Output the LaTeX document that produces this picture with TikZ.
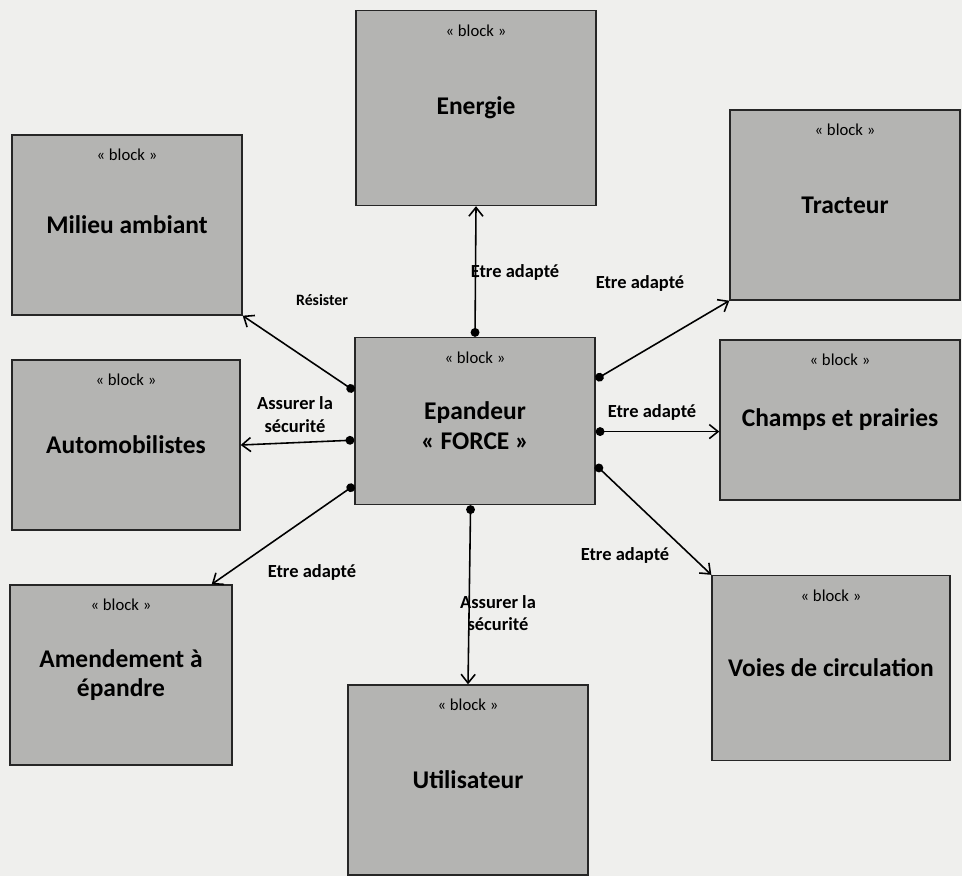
\documentclass[tikz,border=0pt]{standalone}
\usepackage{fontspec}
\setmainfont{Carlito}
\usetikzlibrary{arrows.meta}
\usetikzlibrary{positioning}

\definecolor{paper}{HTML}{EFEFED}
\definecolor{blockgray}{HTML}{B4B4B2}

\tikzset{
  block/.style n args={2}{draw=black!85, fill=blockgray, line width=0.8pt,
    minimum width=#1, minimum height=#2, align=center,
    font=\bfseries\fontsize{14.5}{17}\selectfont,
    label={[anchor=north, yshift=-5pt, font=\fontsize{9.5}{10}\selectfont]north:« block »}},
  link/.style={{Circle[length=5pt]}-{Straight Barb[length=5pt,width=8pt]}, line width=0.9pt},
  lbl/.style={font=\bfseries\fontsize{10.5}{13}\selectfont, align=center, inner sep=1pt}
}

\begin{document}
\begin{tikzpicture}[x=0.02cm, y=-0.02cm]
    \path[use as bounding box, fill=paper] (0,0) rectangle (962,876);

    % blocks
    \node[block={4.8cm}{3.9cm}] (en) at (476,108) {Energie};
    \node[block={4.6cm}{3.6cm}] (mi) at (127,225) {Milieu ambiant};
    \node[block={4.6cm}{3.8cm}] (tr) at (845,205) {Tracteur};
    \node[block={4.8cm}{3.34cm}] (ep) at (475,421) {\\[-2pt]Epandeur\\« FORCE »};
    \node[block={4.56cm}{3.4cm}] (au) at (126,445) {Automobilistes};
    \node[block={4.8cm}{3.2cm}] (ch) at (840,420) {Champs et prairies};
    \node[block={4.44cm}{3.6cm}] (am) at (121,675) {Amendement à\\épandre};
    \node[block={4.8cm}{3.8cm}] (ut) at (468,780) {Utilisateur};
    \node[block={4.76cm}{3.7cm}] (vo) at (831,668) {Voies de circulation};

    % connectors
    \draw[link] (ep.north) -- (en.south);
    \draw[link] (ep.166) -- (mi.south east);
    \draw[link] (ep.189) -- (au.east);
    \draw[link] (ep.208) -- (am.45);
    \draw[link] (ep.-93) -- (ut.north);
    \draw[link] (ep.19) -- (tr.south west);
    \draw[link] (ep.-5) -- (ep.-5 -| ch.west);
    \draw[link] (ep.-20) -- (vo.north west);

    % labels
    \node[lbl] (lEn) at (515,272) {Etre adapté};
    \node[lbl, font=\bfseries\fontsize{9}{10}\selectfont] (lMi) at (322,300) {Résister};
    \node[lbl] (lAu) at (295,415) {Assurer la\\sécurité};
    \node[lbl] (lAm) at (312,572) {Etre adapté};
    \node[lbl] (lUt) at (498,613) {Assurer la\\sécurité};
    \node[lbl] (lTr) at (640,283) {Etre adapté};
    \node[lbl] (lCh) at (652,412) {Etre adapté};
    \node[lbl] (lVo) at (625,555) {Etre adapté};
\end{tikzpicture}
\end{document}
